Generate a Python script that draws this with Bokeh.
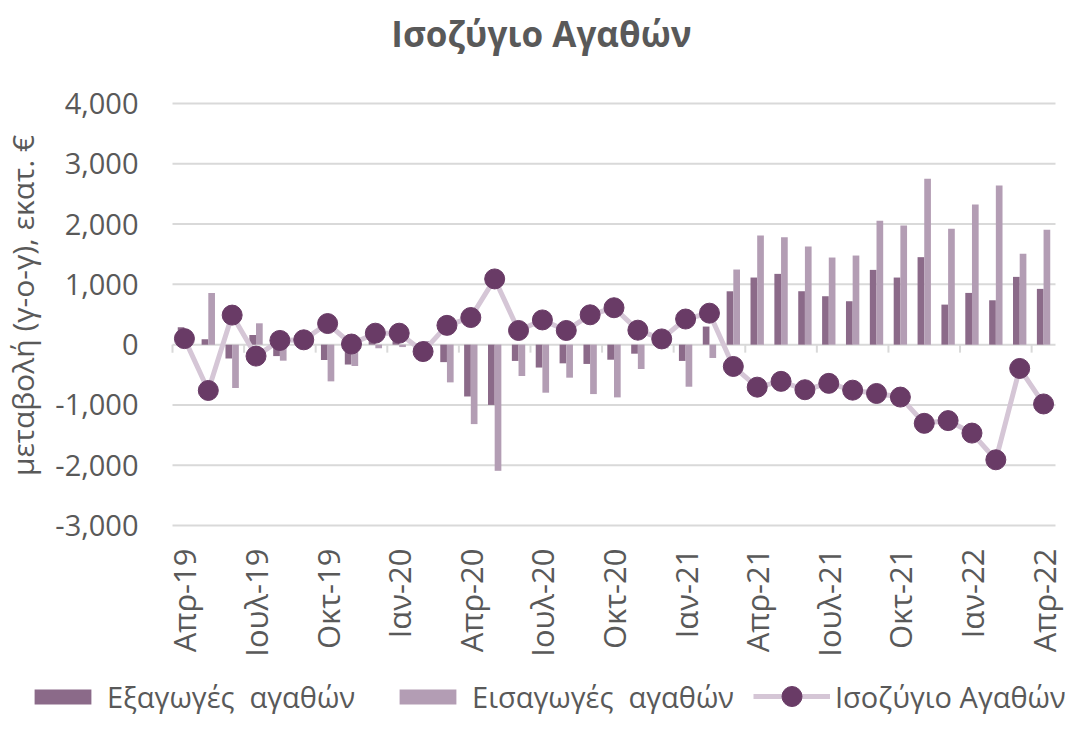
import math
from bokeh.plotting import figure
from bokeh.models import (Range1d, Legend, LegendItem, ColumnDataSource)
from bokeh.transform import dodge
from bokeh.core.properties import value
from bokeh.embed import file_html
from bokeh.resources import INLINE

# ---------------- data ----------------
months = ["Απρ-19", "Μαϊ-19", "Ιουν-19", "Ιουλ-19", "Αυγ-19", "Σεπ-19", "Οκτ-19", "Νοε-19", "Δεκ-19",
          "Ιαν-20", "Φεβ-20", "Μαρ-20", "Απρ-20", "Μαϊ-20", "Ιουν-20", "Ιουλ-20", "Αυγ-20", "Σεπ-20",
          "Οκτ-20", "Νοε-20", "Δεκ-20", "Ιαν-21", "Φεβ-21", "Μαρ-21", "Απρ-21", "Μαϊ-21", "Ιουν-21",
          "Ιουλ-21", "Αυγ-21", "Σεπ-21", "Οκτ-21", "Νοε-21", "Δεκ-21", "Ιαν-22", "Φεβ-22", "Μαρ-22",
          "Απρ-22"]

exports = [290, 90, -230, 160, -190, 60, -255, -330, 130, 150, -60, -290, -860, -1000, -270, -380,
           -310, -320, -250, -150, 30, -270, 300, 885, 1113, 1174, 886, 803, 720, 1240, 1113, 1451,
           664, 858, 736, 1124, 925]

imports = [190, 858, -720, 354, -266, -20, -609, -354, -60, -40, 60, -626, -1318, -2093, -520, -797,
           -548, -820, -875, -404, -60, -698, -221, 1246, 1811, 1783, 1628, 1445, 1478, 2054, 1977,
           2752, 1921, 2326, 2641, 1506, 1905]

balance = [100, -760, 490, -190, 70, 80, 350, 10, 190, 190, -115, 320, 450, 1090, 235, 410, 235, 495,
           612, 240, 95, 425, 522, -362, -705, -609, -748, -642, -755, -810, -870, -1305, -1260,
           -1467, -1910, -395, -984]

y_ticks = [-3000, -2000, -1000, 0, 1000, 2000, 3000, 4000]
label_step = 3

title_text = "Ισοζύγιο Αγαθών"
y_label = "μεταβολή (γ-ο-γ), εκατ. €"
series_names = ["Εξαγωγές  αγαθών", "Εισαγωγές  αγαθών", "Ισοζύγιο Αγαθών"]

# ---------------- styling / layout (pixels) ----------------
FONT = "Open Sans"
TXT = "#595959"
GRID = "#D9D9D9"
C_EXP = "#8B6A89"
C_IMP = "#B39DB4"
C_LINE = "#D5C6D6"
C_DOT = "#693B66"

W, H = 1065, 714
PLOT_L, PLOT_R = 172, 1055        # plot area, horizontal pixels
PLOT_T, PLOT_B = 103, 525         # plot area, vertical pixels (top tick / bottom tick)

n = len(months)
ux = n / (PLOT_R - PLOT_L)
uy = (max(y_ticks) - min(y_ticks)) / (PLOT_B - PLOT_T)


def px_x(fx):
    return -0.5 + (fx - PLOT_L) * ux


def px_y(fy):
    return max(y_ticks) - (fy - PLOT_T) * uy


p = figure(width=W, height=H,
           x_range=Range1d(px_x(0), px_x(W)), y_range=Range1d(px_y(H), px_y(0)),
           output_backend="svg", toolbar_location=None,
           x_axis_location=None, y_axis_location=None, min_border=0)
p.grid.visible = False
p.outline_line_color = None

# horizontal gridlines across the plot area only
p.segment(x0=[-0.5] * len(y_ticks), x1=[n - 0.5] * len(y_ticks), y0=y_ticks, y1=y_ticks,
          line_color=GRID, line_width=2)

# short tick marks on the zero line at every 3rd category boundary
xs = list(range(n))
tick_idx = xs[::label_step]
bounds = [i - 0.5 for i in tick_idx]
p.segment(x0=bounds, y0=[0] * len(bounds), x1=bounds, y1=[-8 * uy] * len(bounds),
          line_color=GRID, line_width=2)

# y tick labels
p.text(x=[px_x(PLOT_L - 34)] * len(y_ticks), y=y_ticks, text=[f"{v:,}" for v in y_ticks],
       text_align="right", text_baseline="middle", text_font=value(FONT),
       text_font_size="29px", text_color=TXT)

# y axis title
p.text(x=[px_x(22)], y=[px_y(305)], text=[y_label], angle=math.pi / 2,
       text_align="center", text_baseline="middle", text_font=value(FONT),
       text_font_size="30px", text_color=TXT)

# x tick labels (rotated)
p.text(x=tick_idx, y=[px_y(PLOT_B + 23)] * len(tick_idx), text=[months[i] for i in tick_idx],
       angle=math.pi / 2, text_align="right", text_baseline="middle", text_font=value(FONT),
       text_font_size="31px", text_color=TXT)

# chart title
p.text(x=[px_x(541)], y=[px_y(33)], text=[title_text], text_align="center",
       text_baseline="middle", text_font=value(FONT), text_font_size="35px",
       text_font_style="bold", text_color=TXT)

# ---------------- data marks ----------------
src = ColumnDataSource(dict(x=xs, exports=exports, imports=imports, balance=balance))
r_exp = p.vbar(x=dodge("x", -0.14, range=p.x_range), top="exports", width=0.28, source=src,
               fill_color=C_EXP, line_color=None)
r_imp = p.vbar(x=dodge("x", 0.14, range=p.x_range), top="imports", width=0.28, source=src,
               fill_color=C_IMP, line_color=None)
r_line = p.line("x", "balance", source=src, line_color=C_LINE, line_width=5)
r_dot = p.scatter("x", "balance", source=src, size=20, fill_color=C_DOT, line_color=C_DOT)

# ---------------- legend ----------------
common = dict(orientation="horizontal", label_text_font=FONT, label_text_font_size="29px",
              label_text_color=TXT, border_line_color=None, background_fill_alpha=0,
              padding=0, margin=0, label_height=40)
legend_bars = Legend(items=[LegendItem(label=series_names[0], renderers=[r_exp]),
                            LegendItem(label=series_names[1], renderers=[r_imp])],
                     location=(27, -2), glyph_width=71, glyph_height=19,
                     label_standoff=9, spacing=37, **common)
legend_line = Legend(items=[LegendItem(label=series_names[2], renderers=[r_line, r_dot])],
                     location=(753, -7), glyph_width=77, glyph_height=50,
                     label_standoff=5, **common)
p.add_layout(legend_bars)
p.add_layout(legend_line)

open("out.html", "w").write(file_html(p, INLINE))
